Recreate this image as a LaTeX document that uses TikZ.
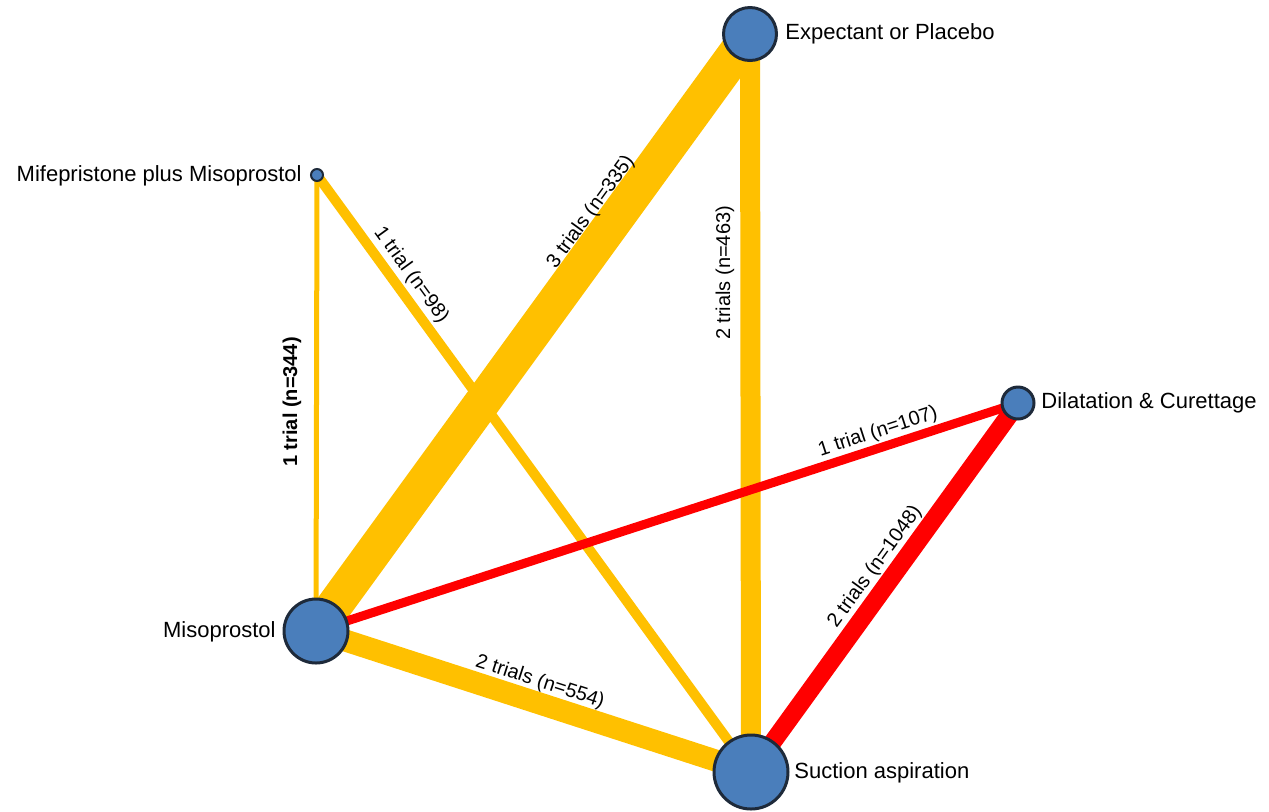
\documentclass[tikz,border=0pt]{standalone}
\usepackage{fontspec}
\setmainfont{Liberation Sans}
\usepackage{xcolor}
\usetikzlibrary{backgrounds}

\definecolor{trtblue}{HTML}{4A7EBB}
\definecolor{trtborder}{HTML}{1E2A3A}
\definecolor{linkgold}{HTML}{FFC000}
\definecolor{linkred}{HTML}{FF0000}

\tikzset{
  trt/.style={circle, draw=trtborder, fill=trtblue, line width=1.5pt, inner sep=0pt},
  trtname/.style={font=\fontsize{11}{13}\selectfont, inner sep=0pt},
  link/.style={draw=linkgold},
  redlink/.style={draw=linkred},
  elabel/.style={font=\fontsize{10}{12}\selectfont, inner sep=0pt}
}

\begin{document}
\begin{tikzpicture}[x=0.5pt, y=-0.5pt]
\useasboundingbox (0,0) rectangle (1269,811);

% treatments
\node[trt, minimum size=26.5pt] (exp) at (750, 34) {};
\node[trt, minimum size=6pt, line width=1pt] (mife) at (317, 175) {};
\node[trt, minimum size=16pt] (dc) at (1018, 403) {};
\node[trt, minimum size=32pt] (miso) at (316, 631) {};
\node[trt, minimum size=37pt] (suc) at (751, 772) {};

% comparisons
\begin{pgfonlayer}{background}
\draw[link, line width=18pt] (miso.center) -- (exp.center);
\draw[link, line width=10pt] (exp.center) -- (suc.center);
\draw[link, line width=2.5pt] (mife.center) -- (miso.center);
\draw[link, line width=5pt] (mife.center) -- (suc.center);
\draw[link, line width=11pt] (miso.center) -- (suc.center);
\draw[redlink, line width=4.5pt] (miso.center) -- (dc.center);
\draw[redlink, line width=9pt] (dc.center) -- (suc.center);
\end{pgfonlayer}

% names
\node[trtname, anchor=west] (expname) at (785, 34) {Expectant or Placebo};
\node[trtname, anchor=east] (mifename) at (302, 176) {Mifepristone plus Misoprostol};
\node[trtname, anchor=west] (dcname) at (1041, 403) {Dilatation \& Curettage};
\node[trtname, anchor=east] (misoname) at (276, 632) {Misoprostol};
\node[trtname, anchor=west] (sucname) at (794, 773) {Suction aspiration};

% trials
\node[elabel, rotate=54] (lmisoexp) at (591, 212) {3 trials (n=335)};
\node[elabel, rotate=90] (lexpsuc) at (725, 273) {2 trials (n=463)};
\node[elabel, rotate=90, font=\fontsize{10}{12}\selectfont\bfseries] (lmifemiso) at (292, 402) {1 trial (n=344)};
\node[elabel, rotate=-54] (lmifesuc) at (411, 275) {1 trial (n=98)};
\node[elabel, rotate=18] (lmisodc) at (878, 432) {1 trial (n=107)};
\node[elabel, rotate=54] (ldcsuc) at (875, 567) {2 trials (n=1048)};
\node[elabel, rotate=-18] (lmisosuc) at (540, 682) {2 trials (n=554)};
\end{tikzpicture}
\end{document}
